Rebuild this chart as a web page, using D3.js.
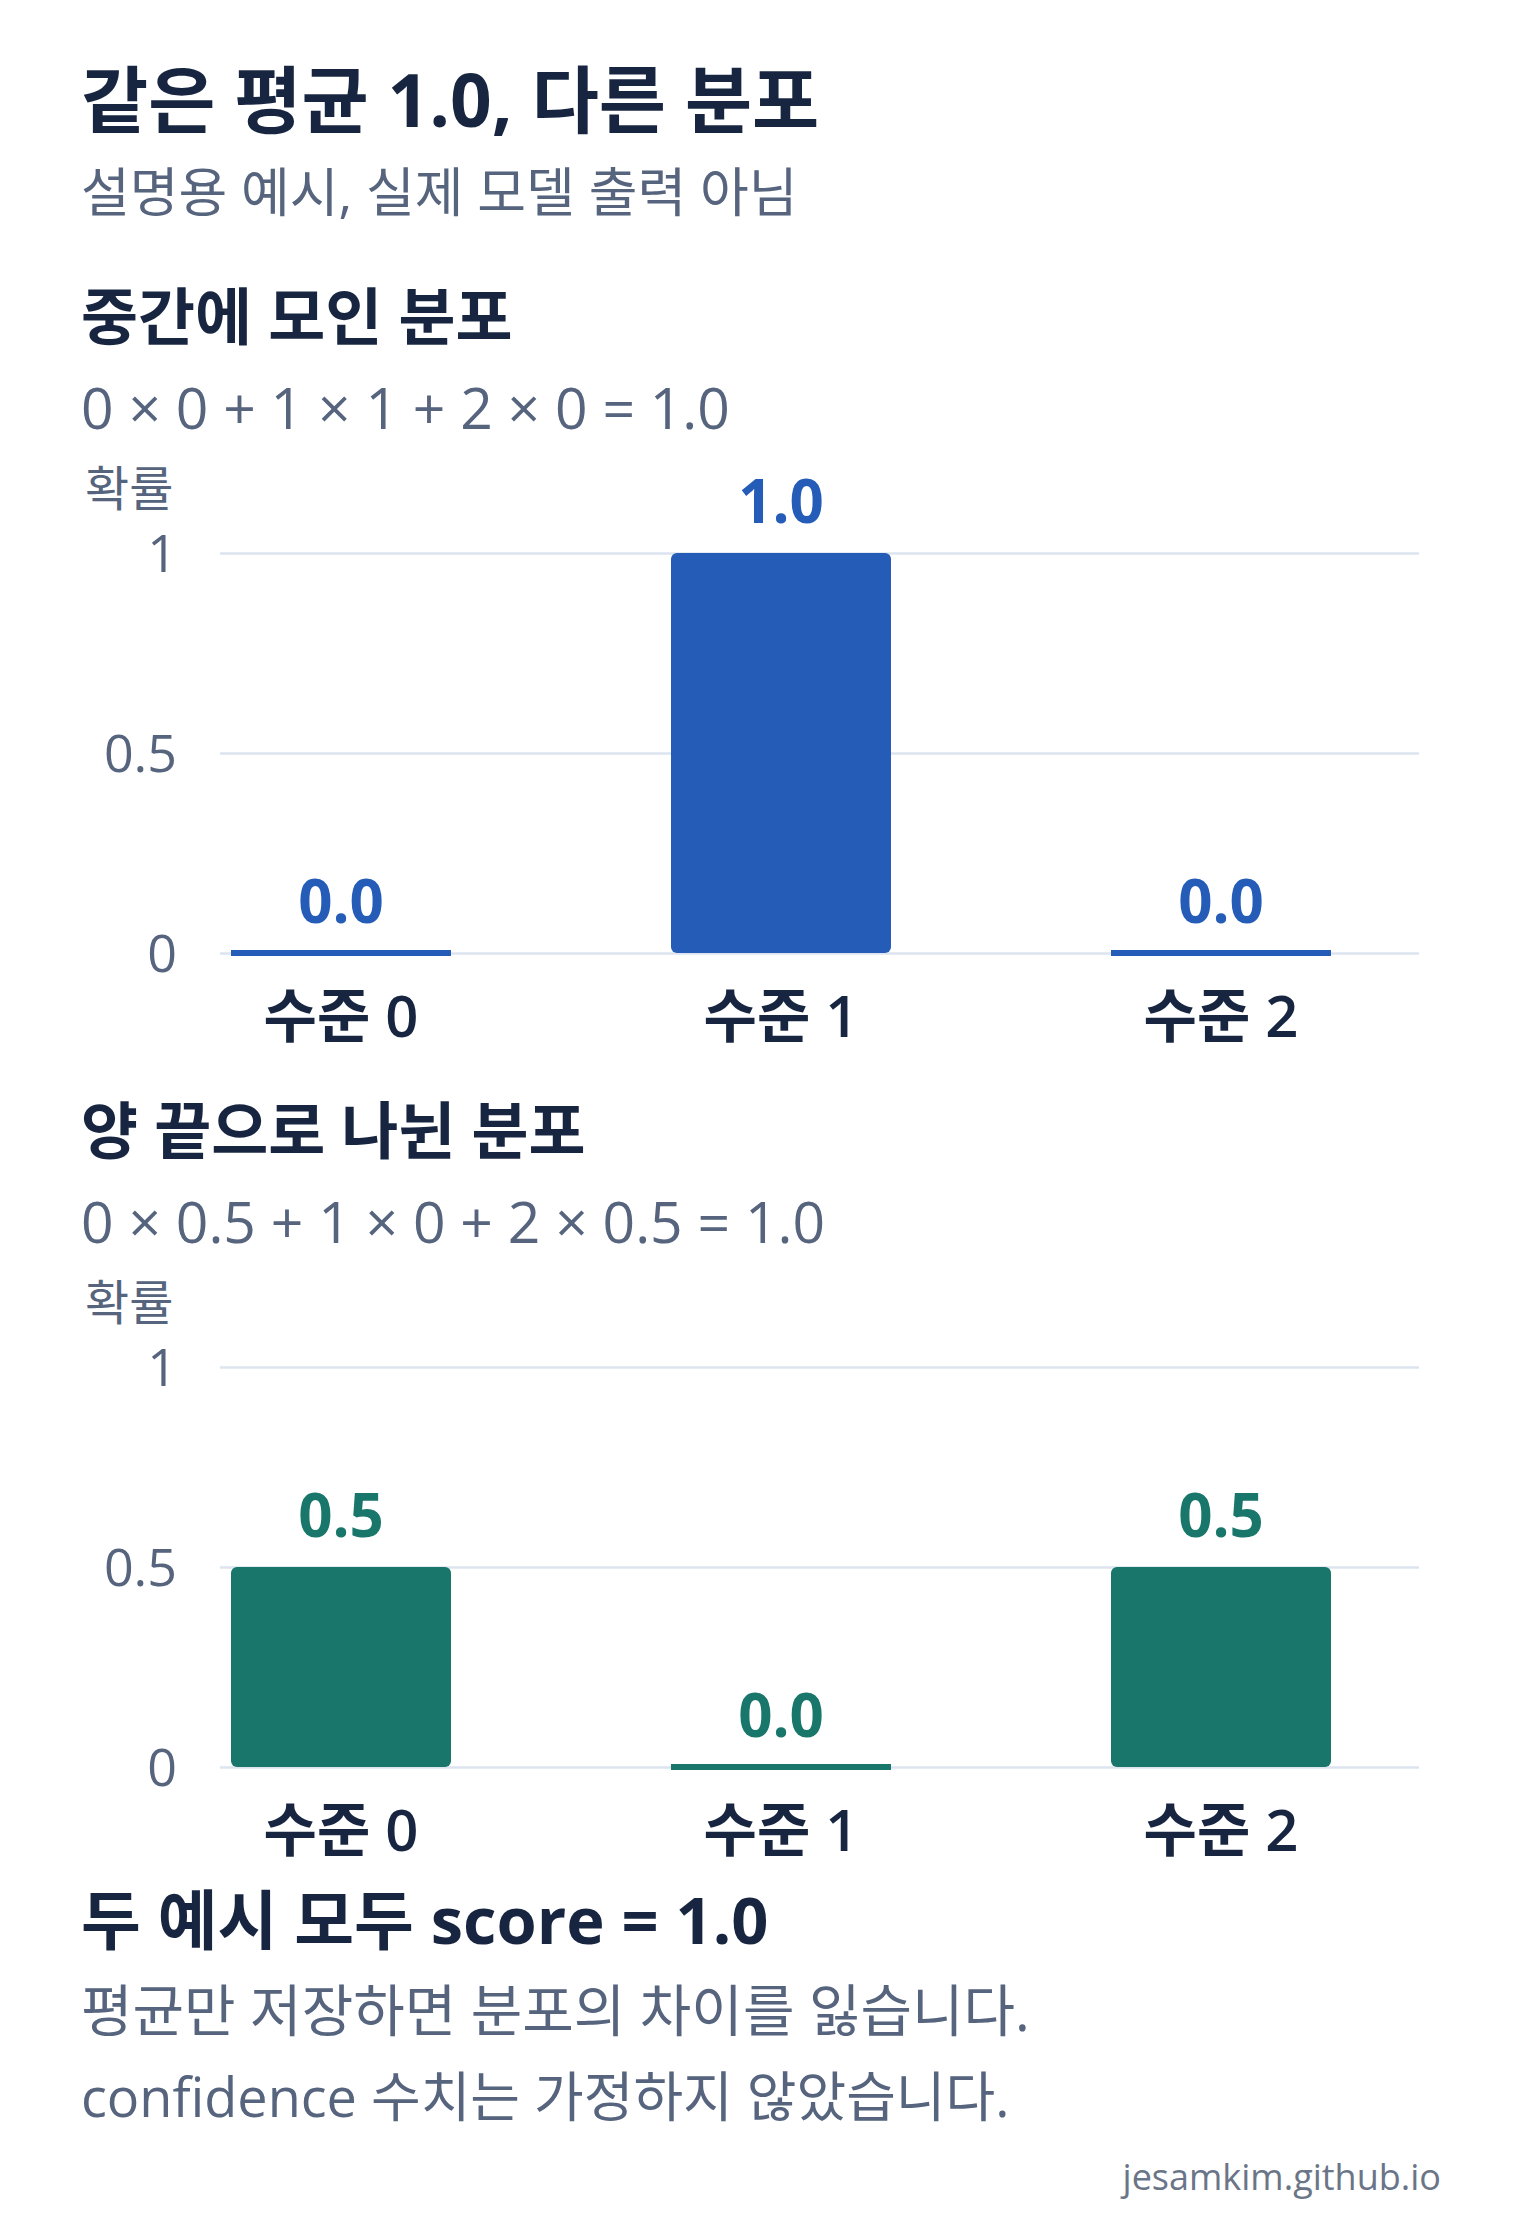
<!DOCTYPE html>
<html><head><meta charset="utf-8">
<script src="https://cdn.jsdelivr.net/npm/d3@7"></script>
<style>
html,body{margin:0;padding:0;background:#fff;}
svg{display:block;font-family:"Open Sans","Noto Sans CJK KR",sans-serif;}
</style></head>
<body>
<svg id="chart" width="1520" height="2240"></svg>
<script>
const title = "같은 평균 1.0, 다른 분포";
const subtitle = "설명용 예시, 실제 모델 출력 아님";
const categories = ["수준 0", "수준 1", "수준 2"];
const panelTitles = ["중간에 모인 분포", "양 끝으로 나뉜 분포"];
const formulas = ["0 × 0 + 1 × 1 + 2 × 0 = 1.0", "0 × 0.5 + 1 × 0 + 2 × 0.5 = 1.0"];
const centeredValues = [0, 1, 0];
const splitValues = [0.5, 0, 0.5];
const yTicks = [0, 0.5, 1];
const yLabel = "확률";
const summaryTitle = "두 예시 모두 score = 1.0";
const summaryLines = ["평균만 저장하면 분포의 차이를 잃습니다.", "confidence 수치는 가정하지 않았습니다."];
const credit = "jesamkim.github.io";
const panelColors = ["#255cb8", "#18766a"];

const FONT = '"Open Sans","Noto Sans CJK KR",sans-serif';
const svg = d3.select("#chart");
const navy = "#172540", slate = "#56647e";
const L = 81;

svg.append("text").attr("x", L).attr("y", 127).attr("fill", navy)
  .attr("font-size", 73).attr("font-weight", 700).text(title);
svg.append("text").attr("x", L).attr("y", 212).attr("fill", slate)
  .attr("font-size", 53).attr("font-weight", 400).text(subtitle);

const x = d3.scaleBand().domain(categories).range([220, 1342]).paddingInner(0.5).paddingOuter(0.025);
const y = d3.scaleLinear().domain([0, 1]).range([400, 0]);
const gridRight = 1419;

function panel(offset, idx, values) {
  const g = svg.append("g");
  g.append("text").attr("x", L).attr("y", 340 + offset).attr("fill", navy)
    .attr("font-size", 62).attr("font-weight", 700).text(panelTitles[idx]);
  g.append("text").attr("x", L).attr("y", 429 + offset).attr("fill", slate)
    .attr("font-size", 57).attr("font-weight", 400).text(formulas[idx]);
  g.append("text").attr("x", 85).attr("y", 506 + offset).attr("fill", slate)
    .attr("font-size", 48).attr("font-weight", 400).text(yLabel);

  const top = 553 + offset;
  const plot = g.append("g").attr("transform", `translate(0,${top})`);
  const grid = plot.append("g").attr("transform", "translate(220,0)")
    .call(d3.axisLeft(y).tickValues(yTicks).tickSize(-(gridRight - 220)).tickFormat(""));
  grid.select(".domain").remove();
  grid.selectAll(".tick line").attr("stroke", "#dde4ef").attr("stroke-width", 2.5);
  const ax = plot.append("g").attr("transform", "translate(177,0)")
    .call(d3.axisLeft(y).tickValues(yTicks).tickSize(0).tickPadding(0).tickFormat(d3.format("~g")));
  ax.select(".domain").remove();
  ax.selectAll("text").attr("fill", slate).attr("font-size", 52).attr("dy", "0.357em")
    .attr("font-family", FONT).attr("font-weight", 400);

  const color = panelColors[idx];
  const bars = plot.selectAll(".bar").data(values).enter();
  bars.append("rect")
    .attr("x", (d, i) => x(categories[i]))
    .attr("width", x.bandwidth())
    .attr("y", d => d > 0 ? y(d) : y(0) - 3)
    .attr("height", d => d > 0 ? y(0) - y(d) : 6)
    .attr("rx", d => d > 0 ? 6 : 0)
    .attr("fill", color);
  bars.append("text")
    .attr("x", (d, i) => x(categories[i]) + x.bandwidth() / 2)
    .attr("y", d => y(d) - 30)
    .attr("text-anchor", "middle").attr("fill", color)
    .attr("font-size", 60).attr("font-weight", 700)
    .text(d => d3.format(".1f")(d));
  const xa = plot.append("g").attr("transform", `translate(0,${y(0)})`)
    .call(d3.axisBottom(x).tickSize(0).tickPadding(0));
  xa.select(".domain").remove();
  xa.selectAll("text").attr("dy", 0).attr("y", 84).attr("fill", navy).attr("font-size", 58)
    .attr("font-family", FONT).attr("font-weight", 600);
}
panel(0, 0, centeredValues);
panel(814, 1, splitValues);

svg.append("text").attr("x", L).attr("y", 1944).attr("fill", navy)
  .attr("font-size", 65).attr("font-weight", 700).text(summaryTitle);
const lineSizes = [56, 54];
summaryLines.forEach((s, i) => {
  svg.append("text").attr("x", L).attr("y", 2031 + i * 86).attr("fill", slate)
    .attr("font-size", lineSizes[i]).attr("font-weight", 400).text(s);
});
svg.append("text").attr("x", 1441).attr("y", 2190).attr("text-anchor", "end").attr("fill", "#6b7588")
  .attr("font-size", 36).attr("font-weight", 400).text(credit);
</script>
</body></html>
